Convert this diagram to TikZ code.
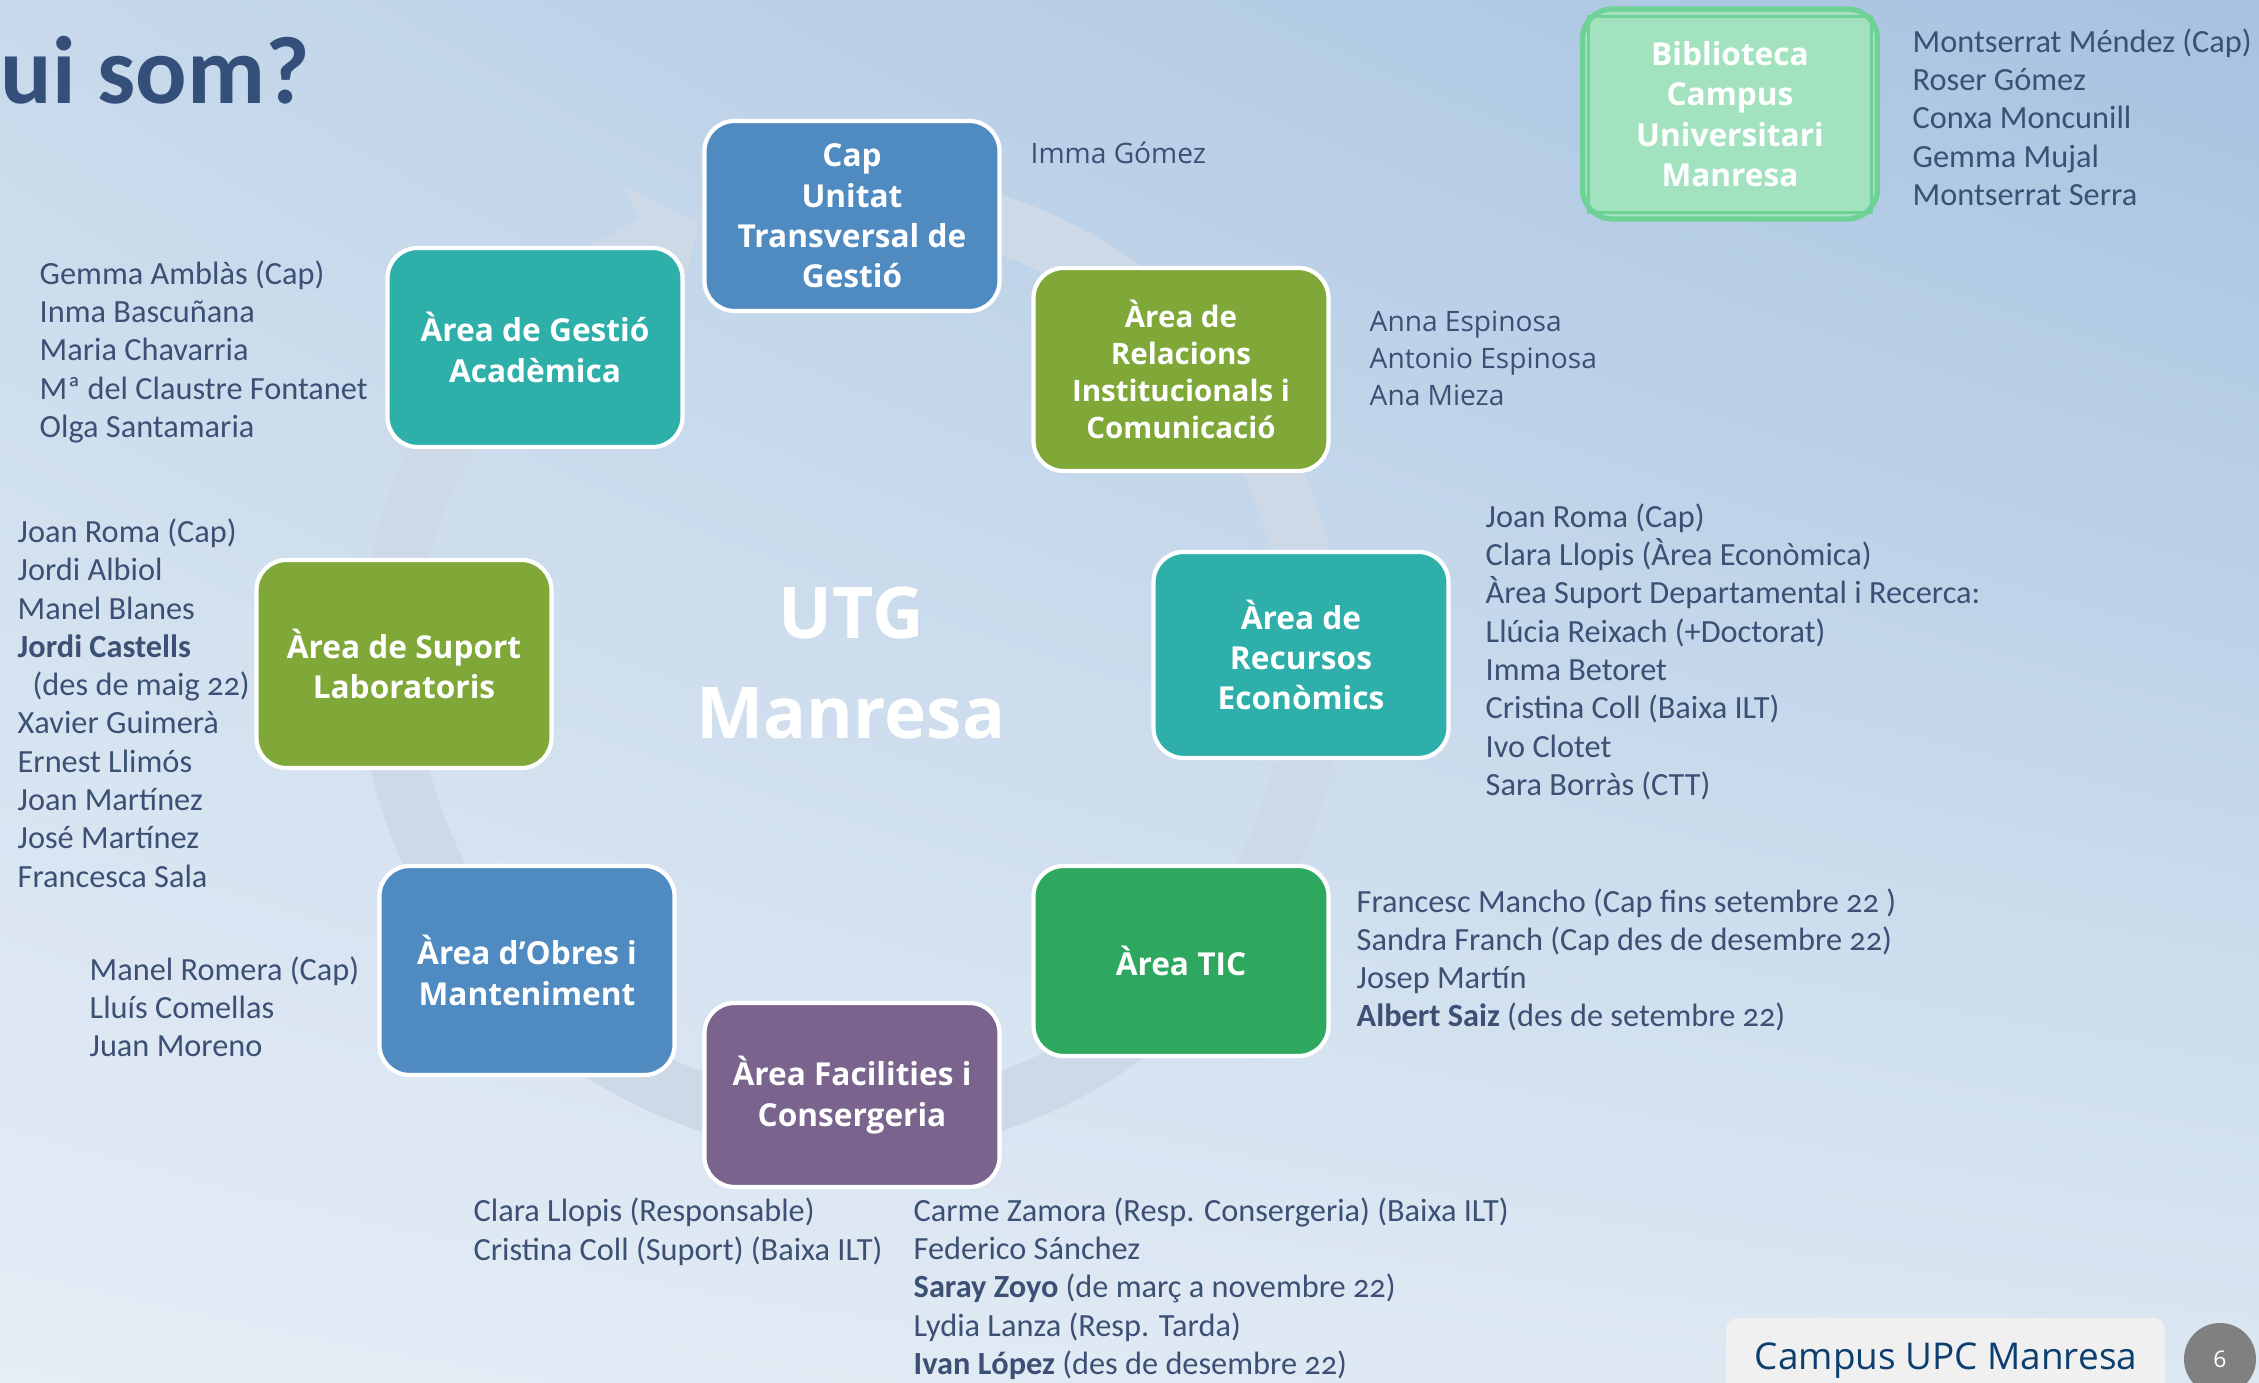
\documentclass[tikz,border=0pt]{standalone}
\usepackage{fontspec}
\setmainfont{Carlito}
\newfontfamily\namefont{Carlito}[Numbers=OldStyle]
\newfontfamily\segoefont{Open Sans}
\usetikzlibrary{shadings}

\definecolor{utgblue}{RGB}{79,139,193}
\definecolor{utgteal}{RGB}{46,175,169}
\definecolor{utgolive}{RGB}{128,168,57}
\definecolor{utggreen}{RGB}{46,168,94}
\definecolor{utgpurple}{RGB}{122,99,140}
\definecolor{bibfill}{RGB}{163,226,191}
\definecolor{bibline}{RGB}{110,210,150}
\definecolor{nametext}{RGB}{59,80,116}
\definecolor{titletext}{RGB}{52,80,122}
\definecolor{ringcol}{RGB}{205,217,231}
\definecolor{campustext}{RGB}{12,62,110}
\definecolor{campusfill}{RGB}{240,240,240}
\definecolor{pagegray}{RGB}{128,128,128}
\definecolor{bgUL}{RGB}{199,217,235}
\definecolor{bgUR}{RGB}{166,194,224}
\definecolor{bgLL}{RGB}{229,237,246}
\definecolor{bgLR}{RGB}{219,231,242}

% lists are placed by the baseline of their last line
\tikzset{
  area/.style={rounded corners=0.3cm, draw=white, line width=1.2pt, text=white,
    align=center, minimum width=2.95cm, inner sep=2pt,
    font=\segoefont\bfseries\fontsize{9}{11.5}\selectfont},
  names/.style={anchor=base west, align=left, inner sep=0pt, text=nametext,
    font=\namefont\fontsize{9.2}{10.9}\selectfont},
  wnames/.style={names, font=\segoefont\fontsize{8}{10.6}\selectfont},
}

\begin{document}
\begin{tikzpicture}
\clip (0,0) rectangle (22.59,13.83);
\shade[upper left=bgUL, upper right=bgUR, lower left=bgLL, lower right=bgLR] (0,0) rectangle (22.59,13.83);

\begin{scope}[shift={(8.51,7.20)}]
\draw[ringcol, line width=0.57cm] (85:4.63) arc[start angle=85, end angle=-244.5, radius=4.63];
\fill[ringcol] (115.5:3.98) -- (115.5:5.30) -- (109:4.66) -- cycle;
\end{scope}

\node[text=titletext, anchor=base west, inner sep=0pt, font=\bfseries\fontsize{27.3}{30}\selectfont] (title) at (0,12.79) {ui som?};

\node[text=white, align=center, font=\segoefont\bfseries\fontsize{20.3}{28.6}\selectfont] (utg) at (8.51,7.20) {UTG\\Manresa};

\node[area, fill=utgblue, minimum height=1.90cm] (cap) at (8.52,11.67) {Cap\\Unitat\\Transversal de\\Gestió};
\node[area, fill=utgteal, minimum height=1.99cm] (gestio) at (5.35,10.355) {Àrea de Gestió\\Acadèmica};
\node[area, fill=utgolive, minimum height=2.03cm, font=\segoefont\bfseries\fontsize{8.4}{10.6}\selectfont] (relacions) at (11.81,10.135) {Àrea de\\Relacions\\Institucionals i\\Comunicació};
\node[area, fill=utgteal, minimum height=2.06cm] (recursos) at (13.01,7.28) {Àrea de\\Recursos\\Econòmics};
\node[area, fill=utgolive, minimum height=2.08cm] (suport) at (4.04,7.19) {Àrea de Suport\\Laboratoris};
\node[area, fill=utggreen, minimum height=1.90cm] (tic) at (11.81,4.22) {Àrea TIC};
\node[area, fill=utgblue, minimum height=2.09cm] (obres) at (5.27,4.125) {Àrea d’Obres i\\Manteniment};
\node[area, fill=utgpurple, minimum height=1.84cm] (facilities) at (8.52,2.88) {Àrea Facilities i\\Consergeria};

\node[area, fill=bibfill, draw=bibline, line width=1.5pt, minimum height=2.10cm] (biblioteca) at (17.30,12.69) {Biblioteca\\Campus\\Universitari\\Manresa};
\draw[bibline, line width=0.8pt] ([xshift=0.09cm,yshift=-0.1cm]biblioteca.north west) rectangle ([xshift=-0.09cm,yshift=0.09cm]biblioteca.south east);

\node[wnames] (immalist) at (10.30,12.19) {Imma Gómez};
\node[names] (gestiolist) at (0.39,9.456) {Gemma Amblàs (Cap)\\Inma Bascuñana\\Maria Chavarria\\Mª del Claustre Fontanet\\Olga Santamaria};
\node[wnames] (relacionslist) at (13.69,9.773) {Anna Espinosa\\Antonio Espinosa\\Ana Mieza};
\node[names] (recursoslist) at (14.85,5.876) {Joan Roma (Cap)\\Clara Llopis (Àrea Econòmica)\\Àrea Suport Departamental i Recerca:\\Llúcia Reixach (+Doctorat)\\Imma Betoret\\Cristina Coll (Baixa ILT)\\Ivo Clotet\\Sara Borràs (CTT)};
\node[names] (suportlist) at (0.17,4.958) {Joan Roma (Cap)\\Jordi Albiol\\Manel Blanes\\\textbf{Jordi Castells}\\\hspace{0.15cm}(des de maig 22)\\Xavier Guimerà\\Ernest Llimós\\Joan Martínez\\José Martínez\\Francesca Sala};
\node[names] (ticlist) at (13.56,3.56) {Francesc Mancho (Cap fins setembre 22 )\\Sandra Franch (Cap des de desembre 22)\\Josep Martín\\\textbf{Albert Saiz} (des de setembre 22)};
\node[names] (obreslist) at (0.89,3.263) {Manel Romera (Cap)\\Lluís Comellas\\Juan Moreno};
\node[names] (suportfac) at (4.73,1.227) {Clara Llopis (Responsable)\\Cristina Coll (Suport) (Baixa ILT)};
\node[names] (consergeria) at (9.13,0.086) {Carme Zamora (Resp. Consergeria) (Baixa ILT)\\Federico Sánchez\\\textbf{Saray Zoyo} (de març a novembre 22)\\Lydia Lanza (Resp. Tarda)\\\textbf{Ivan López} (des de desembre 22)};
\node[names] (biblist) at (19.12,11.776) {Montserrat Méndez (Cap)\\Roser Gómez\\Conxa Moncunill\\Gemma Mujal\\Montserrat Serra};

\fill[campusfill, rounded corners=0.12cm] (17.26,-0.3) rectangle (21.65,0.65);
\node[text=campustext, anchor=base, inner sep=0pt, font=\segoefont\fontsize{10.5}{12}\selectfont] (campus) at (19.46,0.13) {Campus UPC Manresa};
\node[circle, fill=pagegray, minimum size=0.72cm, inner sep=0pt, text=white, font=\segoefont\fontsize{6.5}{8}\selectfont] (pagenum) at (22.20,0.24) {6};
\end{tikzpicture}
\end{document}
